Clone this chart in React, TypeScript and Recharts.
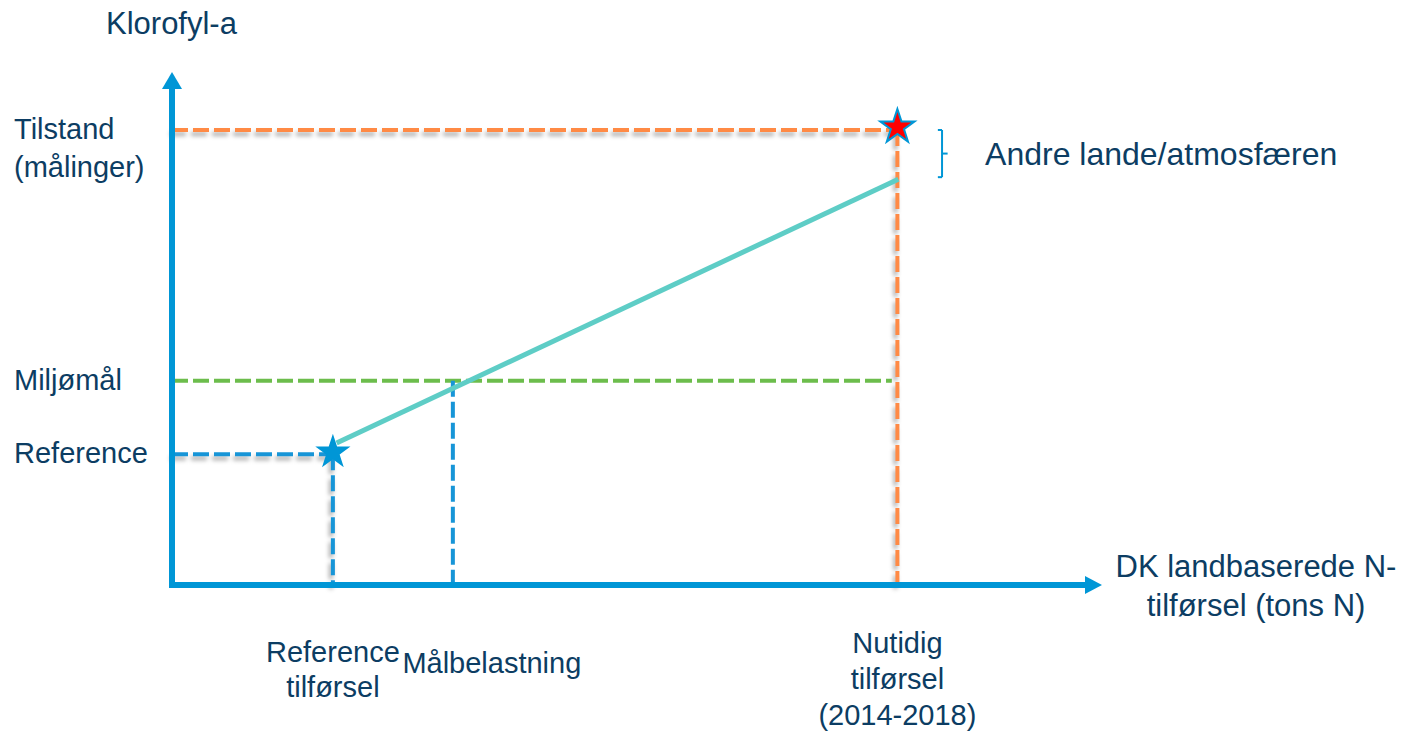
import React from "react";
import {
  ComposedChart,
  Line,
  XAxis,
  YAxis,
  ReferenceLine,
  ReferenceDot,
} from "recharts";

// load axis positions (concept units 0-100): reference, target load, current load
const loadX = [17.3, 30.2, 78.0];
const xTickLabels = [
  ["Reference", "tilførsel"],
  ["Målbelastning"],
  ["Nutidig", "tilførsel", "(2014-2018)"],
];

// chlorophyll levels: reference, environmental goal, measured status
const chlY = [25.5, 39.8, 88.7];
const yTickLabels = [["Reference"], ["Miljømål"], ["Tilstand", "(målinger)"]];

// response line from reference to current load
const responseX = [17.7, 78.1];
const responseY = [27.7, 79.1];

// part explained by other countries / atmosphere
const otherRange = [79.5, 88.7];
const otherLabel = "Andre lande/atmosfæren";
const bracketX = 82.8;

const yTitle = "Klorofyl-a";
const xTitle = ["DK landbaserede N-", "tilførsel (tons N)"];

// arrow bases on the axes (tips sit at 100)
const axisEnd = [98.2, 96.7];

const lineData = responseX.map((x, i) => ({ x, y: responseY[i] }));

const FONT = "'Liberation Sans', Arial, sans-serif";
const TEXT = "#0c3d63";
const AXIS = "#0096d6";
const ORANGE = "#ff8a45";
const GREEN = "#6cbd4c";
const BLUE = "#1795d7";
const TEAL = "#5ecdc6";

const starPoints = (cx: number, cy: number, R: number, r: number) => {
  const pts: string[] = [];
  for (let i = 0; i < 10; i++) {
    const rad = i % 2 === 0 ? R : r;
    const a = -Math.PI / 2 + (i * Math.PI) / 5;
    pts.push(`${cx + rad * Math.cos(a)},${cy + rad * Math.sin(a)}`);
  }
  return pts.join(" ");
};

const YTick = (props: any) => {
  const { y, payload } = props;
  const lines = yTickLabels[chlY.indexOf(payload.value)] || [];
  return (
    <text x={6} y={y + 9} fill={TEXT} fontSize={29} fontFamily={FONT}>
      {lines.map((l, i) => (
        <tspan key={i} x={6} dy={i === 0 ? 0 : 38}>
          {l}
        </tspan>
      ))}
    </text>
  );
};

// per-label offsets below the axis
const xTickOffsets = [
  { dx: 0, top: 77, gap: 35 },
  { dx: 39, top: 88, gap: 0 },
  { dx: 0, top: 68, gap: 36 },
];

const XTick = (props: any) => {
  const { x, y, payload } = props;
  const idx = loadX.indexOf(payload.value);
  const lines = xTickLabels[idx] || [];
  const o = xTickOffsets[idx] || { dx: 0, top: 70, gap: 36 };
  return (
    <text
      x={x + o.dx}
      y={y + o.top}
      fill={TEXT}
      fontSize={29}
      fontFamily={FONT}
      textAnchor="middle"
    >
      {lines.map((l, i) => (
        <tspan key={i} x={x + o.dx} dy={i === 0 ? 0 : o.gap}>
          {l}
        </tspan>
      ))}
    </text>
  );
};

const css = `
.dash-shadow line { filter: drop-shadow(-2px 4px 2px rgba(0,0,0,0.32)); }
.recharts-surface { overflow: visible; }
`;

const App: React.FC = () => {
  return (
    <div>
      <style>{css}</style>
      <ComposedChart
        width={1400}
        height={723}
        data={lineData}
        margin={{ top: 64, right: 306, bottom: 0, left: 0 }}
      >
        <XAxis
          dataKey="x"
          type="number"
          domain={[0, 100]}
          ticks={loadX}
          interval={0}
          tick={<XTick />}
          tickLine={false}
          axisLine={false}
          tickSize={0}
          tickMargin={0}
          height={146}
        />
        <YAxis
          type="number"
          domain={[0, 100]}
          ticks={chlY}
          interval={0}
          tick={<YTick />}
          tickLine={false}
          axisLine={false}
          tickSize={0}
          tickMargin={0}
          width={164}
        />

        {/* goal level */}
        <ReferenceLine
          segment={[
            { x: 0, y: chlY[1] },
            { x: loadX[2] - 0.6, y: chlY[1] },
          ]}
          stroke={GREEN}
          strokeWidth={4}
          strokeDasharray="16 5"
        />
        {/* target load */}
        <ReferenceLine
          segment={[
            { x: loadX[1], y: chlY[1] },
            { x: loadX[1], y: 0 },
          ]}
          stroke={BLUE}
          strokeWidth={4}
          strokeDasharray="16 5"
        />
        {/* reference level & load */}
        <ReferenceLine
          className="dash-shadow"
          segment={[
            { x: 0, y: chlY[0] },
            { x: loadX[0], y: chlY[0] },
          ]}
          stroke={BLUE}
          strokeWidth={4}
          strokeDasharray="16 5"
        />
        <ReferenceLine
          className="dash-shadow"
          segment={[
            { x: loadX[0], y: chlY[0] },
            { x: loadX[0], y: 0 },
          ]}
          stroke={BLUE}
          strokeWidth={4}
          strokeDasharray="16 5"
        />
        {/* status & current load */}
        <ReferenceLine
          className="dash-shadow"
          segment={[
            { x: 0, y: chlY[2] },
            { x: loadX[2], y: chlY[2] },
          ]}
          stroke={ORANGE}
          strokeWidth={4}
          strokeDasharray="16 5"
        />
        <ReferenceLine
          className="dash-shadow"
          segment={[
            { x: loadX[2], y: chlY[2] },
            { x: loadX[2], y: 0 },
          ]}
          stroke={ORANGE}
          strokeWidth={4}
          strokeDasharray="16 5"
        />

        <Line
          dataKey="y"
          stroke={TEAL}
          strokeWidth={5}
          dot={false}
          isAnimationActive={false}
        />

        {/* bracket for other sources */}
        <ReferenceLine
          segment={[
            { x: bracketX, y: otherRange[0] },
            { x: bracketX, y: otherRange[1] },
          ]}
          stroke={AXIS}
          strokeWidth={2}
        />
        <ReferenceLine
          segment={[
            { x: bracketX - 0.45, y: otherRange[1] },
            { x: bracketX, y: otherRange[1] },
          ]}
          stroke={AXIS}
          strokeWidth={2}
        />
        <ReferenceLine
          segment={[
            { x: bracketX - 0.45, y: otherRange[0] },
            { x: bracketX, y: otherRange[0] },
          ]}
          stroke={AXIS}
          strokeWidth={2}
        />
        <ReferenceLine
          segment={[
            { x: bracketX, y: (otherRange[0] + otherRange[1]) / 2 },
            { x: bracketX + 0.6, y: (otherRange[0] + otherRange[1]) / 2 },
          ]}
          stroke={AXIS}
          strokeWidth={2}
        />
        <ReferenceDot
          x={bracketX}
          y={(otherRange[0] + otherRange[1]) / 2}
          r={0}
          ifOverflow="visible"
          shape={(p: any) => (
            <text
              x={p.cx + 43}
              y={p.cy + 11}
              fill={TEXT}
              fontSize={32}
              fontFamily={FONT}
            >
              {otherLabel}
            </text>
          )}
        />

        {/* axes with arrows */}
        <ReferenceLine
          segment={[
            { x: 0, y: 0 },
            { x: axisEnd[0], y: 0 },
          ]}
          stroke={AXIS}
          strokeWidth={6}
          strokeLinecap="square"
          ifOverflow="visible"
        />
        <ReferenceLine
          segment={[
            { x: 0, y: 0 },
            { x: 0, y: axisEnd[1] },
          ]}
          stroke={AXIS}
          strokeWidth={6}
          strokeLinecap="square"
          ifOverflow="visible"
        />
        <ReferenceDot
          x={100}
          y={0}
          r={0}
          ifOverflow="visible"
          shape={(p: any) => (
            <g>
              <polygon
                points={`${p.cx},${p.cy} ${p.cx - 17},${p.cy - 9} ${p.cx - 17},${p.cy + 9}`}
                fill={AXIS}
              />
              <text
                x={p.cx + 154}
                y={p.cy - 8}
                fill={TEXT}
                fontSize={31}
                fontFamily={FONT}
                textAnchor="middle"
              >
                {xTitle.map((l, i) => (
                  <tspan key={i} x={p.cx + 154} dy={i === 0 ? 0 : 39}>
                    {l}
                  </tspan>
                ))}
              </text>
            </g>
          )}
        />
        <ReferenceDot
          x={0}
          y={100}
          r={0}
          ifOverflow="visible"
          shape={(p: any) => (
            <g>
              <polygon
                points={`${p.cx},${p.cy} ${p.cx - 10},${p.cy + 17} ${p.cx + 10},${p.cy + 17}`}
                fill={AXIS}
              />
              <text
                x={p.cx - 66}
                y={p.cy - 38}
                fill={TEXT}
                fontSize={31}
                fontFamily={FONT}
              >
                {yTitle}
              </text>
            </g>
          )}
        />

        {/* stars */}
        <ReferenceDot
          x={loadX[0]}
          y={chlY[0]}
          r={0}
          ifOverflow="visible"
          shape={(p: any) => (
            <polygon points={starPoints(p.cx, p.cy - 2, 18.5, 7.1)} fill={AXIS} />
          )}
        />
        <ReferenceDot
          x={loadX[2]}
          y={chlY[2]}
          r={0}
          ifOverflow="visible"
          shape={(p: any) => (
            <polygon
              points={starPoints(p.cx, p.cy - 3, 18, 6.9)}
              fill="#ff0000"
              stroke={AXIS}
              strokeWidth={2}
            />
          )}
        />
      </ComposedChart>
    </div>
  );
};

export default App;
